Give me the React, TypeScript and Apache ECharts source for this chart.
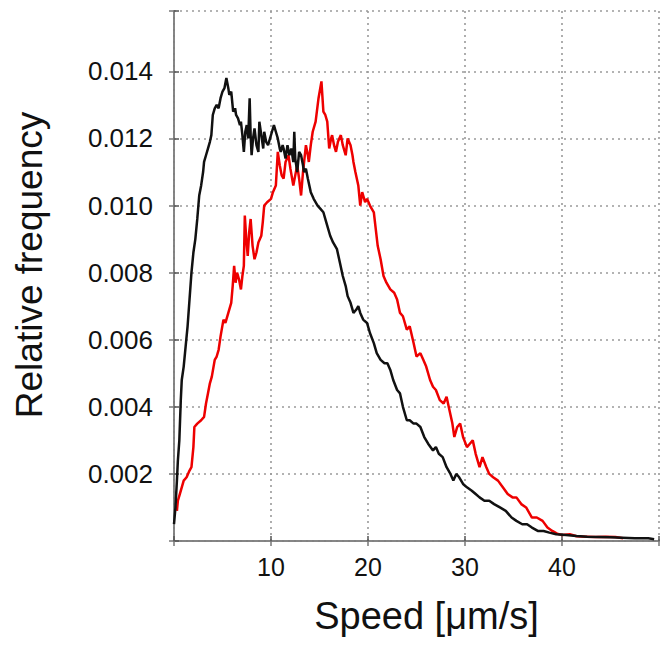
import React, { useEffect, useRef } from "react";
import * as echarts from "echarts";

const xTicks = [10, 20, 30, 40];
const yTicks = [0.002, 0.004, 0.006, 0.008, 0.01, 0.012, 0.014];

// Black curve: [speed, relative frequency]
const blackSpeed = [
  0.0, 0.15, 0.3, 0.4, 0.55, 0.7, 0.8, 1.0, 1.2, 1.4, 1.6, 1.8, 2.0, 2.2, 2.4, 2.6, 2.8, 3.0, 3.1, 3.3,
  3.5, 3.7, 3.85, 4.0, 4.2, 4.4, 4.6, 4.8, 5.0, 5.2, 5.4, 5.6, 5.7, 5.9, 6.1, 6.3, 6.4, 6.6, 6.8, 6.9,
  7.05, 7.2, 7.35, 7.5, 7.65, 7.8, 7.9, 8.0, 8.15, 8.3, 8.5, 8.7, 8.8, 9.0, 9.2, 9.3, 9.5, 9.7, 9.9, 10.1,
  10.3, 10.5, 10.7, 10.9, 11.0, 11.2, 11.3, 11.5, 11.7, 11.9, 12.1, 12.3, 12.4, 12.5, 12.7, 12.9, 13.1, 13.3, 13.4, 13.6,
  13.8, 14.1, 14.4, 14.8, 15.1, 15.4, 15.7, 16.1, 16.4, 16.8, 17.1, 17.4, 17.7, 17.9, 18.2, 18.5, 18.8, 19.0, 19.2, 19.5,
  19.9, 20.2, 20.6, 20.9, 21.3, 21.7, 22.0, 22.3, 22.6, 23.0, 23.3, 23.6, 24.0, 24.3, 24.7, 25.0, 25.4, 25.8, 26.2, 26.7,
  27.0, 27.3, 27.7, 28.1, 28.5, 28.8, 29.1, 29.4, 29.8, 30.2, 30.7, 31.1, 31.5, 32.0, 32.5, 33.0, 33.6, 34.2, 34.8, 35.3,
  35.9, 36.4, 36.9, 37.5, 38.1, 38.7, 39.4, 40.4, 41.5, 42.6, 43.8, 45.0, 46.2, 47.5, 48.9, 49.5,
];
const blackFreq = [
  0.0005, 0.001, 0.0018, 0.0024, 0.003, 0.0042, 0.0048, 0.0052, 0.0058, 0.0064, 0.0072, 0.008, 0.0086, 0.009, 0.0096, 0.0103, 0.0106, 0.011, 0.0113, 0.0115,
  0.0117, 0.0119, 0.0121, 0.0127, 0.0129, 0.013, 0.0129, 0.0132, 0.0134, 0.0135, 0.0138, 0.0135, 0.0133, 0.0134, 0.0128, 0.0129, 0.0127, 0.0126, 0.0124, 0.0125,
  0.0121, 0.0116, 0.0122, 0.0124, 0.012, 0.0132, 0.0121, 0.0115, 0.012, 0.0123, 0.0118, 0.0116, 0.0125, 0.0121, 0.0117, 0.0122, 0.0119, 0.0118, 0.012, 0.0122,
  0.0124, 0.0122, 0.012, 0.0117, 0.0116, 0.0118, 0.0117, 0.0114, 0.0118, 0.0115, 0.0117, 0.0113, 0.0122, 0.0114, 0.011, 0.0116, 0.0115, 0.0112, 0.011, 0.0111,
  0.0108, 0.0104, 0.0102, 0.01, 0.0099, 0.0098, 0.0095, 0.0091, 0.0089, 0.0087, 0.0083, 0.0079, 0.0076, 0.0073, 0.0071, 0.0068, 0.0069, 0.007, 0.0068, 0.0066,
  0.0065, 0.0062, 0.0059, 0.0056, 0.0054, 0.0053, 0.0053, 0.0051, 0.0048, 0.0045, 0.0044, 0.004, 0.0036, 0.0036, 0.0035, 0.0035, 0.0034, 0.0031, 0.0029, 0.0027,
  0.0028, 0.0026, 0.0025, 0.0022, 0.002, 0.0018, 0.002, 0.0019, 0.0017, 0.0016, 0.0015, 0.0014, 0.0013, 0.0012, 0.0012, 0.0011, 0.001, 0.0009, 0.0007, 0.0006,
  0.0005, 0.0005, 0.0004, 0.0003, 0.0003, 0.00025, 0.0002, 0.00018, 0.00015, 0.00013, 0.00012, 0.00011, 0.0001, 0.00008, 0.00008, 0.00005,
];

// Red curve: [speed, relative frequency]
const redSpeed = [
  0.3, 0.4, 0.6, 0.8, 1.0, 1.3, 1.6, 1.8, 2.0, 2.1, 2.4, 2.8, 3.1, 3.3, 3.5, 3.7, 3.9, 4.2, 4.4, 4.6,
  4.8, 5.1, 5.3, 5.6, 5.9, 6.05, 6.2, 6.35, 6.5, 6.7, 6.9, 7.05, 7.2, 7.3, 7.45, 7.6, 7.75, 7.9, 8.1, 8.3,
  8.5, 8.7, 9.0, 9.15, 9.3, 9.6, 10.0, 10.2, 10.5, 10.7, 10.9, 11.1, 11.3, 11.5, 11.8, 12.0, 12.3, 12.5, 12.7, 12.9,
  13.1, 13.3, 13.6, 13.8, 13.9, 14.1, 14.3, 14.6, 14.9, 15.2, 15.4, 15.6, 15.8, 16.0, 16.2, 16.3, 16.5, 16.7, 16.9, 17.2,
  17.4, 17.7, 17.9, 18.2, 18.4, 18.5, 18.7, 19.0, 19.2, 19.4, 19.7, 19.9, 20.2, 20.6, 20.8, 21.0, 21.3, 21.6, 21.9, 22.3,
  22.7, 23.0, 23.3, 23.6, 24.0, 24.3, 24.7, 25.0, 25.4, 25.7, 26.0, 26.4, 26.7, 27.0, 27.4, 27.8, 28.1, 28.4, 28.7, 28.9,
  29.2, 29.5, 29.8, 30.2, 30.5, 30.8, 31.1, 31.5, 31.8, 32.2, 32.5, 32.9, 33.4, 33.9, 34.4, 34.9, 35.3, 35.8, 36.3, 36.9,
  37.4, 38.0, 38.5, 39.0, 39.5, 40.0, 40.8, 41.5, 42.5, 43.5, 44.5, 45.5, 46.3,
];
const redFreq = [
  0.0009, 0.0012, 0.0014, 0.0016, 0.0018, 0.0019, 0.0021, 0.0022, 0.0028, 0.0034, 0.0035, 0.0036, 0.0037, 0.0041, 0.0044, 0.0047, 0.0049, 0.0054, 0.0055, 0.0057,
  0.0061, 0.0066, 0.0065, 0.0068, 0.0071, 0.0076, 0.0082, 0.0077, 0.008, 0.0078, 0.0075, 0.0079, 0.0082, 0.0097, 0.009, 0.0085, 0.0092, 0.0096, 0.0088, 0.0084,
  0.0086, 0.0089, 0.0091, 0.0095, 0.01, 0.0101, 0.0102, 0.0104, 0.0106, 0.0116, 0.0112, 0.0109, 0.0108, 0.0113, 0.0115, 0.0111, 0.0106, 0.0109, 0.0112, 0.0108,
  0.0103, 0.011, 0.0118, 0.0115, 0.0113, 0.0118, 0.0122, 0.0125, 0.0132, 0.0137, 0.0128, 0.0127, 0.0125, 0.0117, 0.012, 0.0121, 0.0118, 0.0116, 0.0119, 0.0121,
  0.0118, 0.0115, 0.012, 0.0118, 0.0115, 0.0113, 0.011, 0.0106, 0.01, 0.0104, 0.0101, 0.0102, 0.01, 0.0098, 0.0093, 0.0088, 0.0084, 0.0079, 0.0077, 0.0075,
  0.0074, 0.0072, 0.0068, 0.0067, 0.0063, 0.0064, 0.0059, 0.0055, 0.0056, 0.0054, 0.0052, 0.0048, 0.0046, 0.0045, 0.0042, 0.0041, 0.0043, 0.0039, 0.0035, 0.0031,
  0.0034, 0.0035, 0.0031, 0.0028, 0.0029, 0.003, 0.0026, 0.0022, 0.0025, 0.0022, 0.002, 0.0019, 0.0018, 0.0016, 0.0014, 0.0013, 0.0013, 0.0011, 0.001, 0.0007,
  0.0007, 0.0006, 0.0004, 0.0003, 0.00022, 0.00018, 0.0002, 0.00014, 0.00013, 0.00012, 0.00013, 0.00012, 0.00008,
];

const FONT = "'Liberation Sans', Arial, sans-serif";

export default function App() {
  const ref = useRef<HTMLDivElement>(null);
  useEffect(() => {
    if (!ref.current) return;
    const chart = echarts.init(ref.current, null, { renderer: "svg" });
    const pair = (xs: number[], ys: number[]) => xs.map((x, i) => [x, ys[i]]);
    const gridLine = { show: true, lineStyle: { color: "#9a9a9a", width: 1.6, type: [2, 4] as any } };
    chart.setOption({
      animation: false,
      backgroundColor: "#ffffff",
      grid: { left: 174, right: 10, top: 11, bottom: 109, containLabel: false },
      xAxis: [
        {
          type: "value",
          min: 0,
          max: 50,
          interval: 10,
          name: "Speed [\u03bcm/s]",
          nameLocation: "middle",
          nameGap: 56,
          nameTextStyle: { fontSize: 38, color: "#111", fontFamily: FONT, padding: [0, 0, 0, 20] },
          axisLine: { show: true, lineStyle: { color: "#555", width: 1.5 } },
          axisTick: { show: true, inside: true, length: 5, lineStyle: { color: "#555", width: 1.5 } },
          axisLabel: {
            fontSize: 25,
            color: "#111",
            fontFamily: FONT,
            margin: 13,
            formatter: (v: number) => (xTicks.includes(v) ? String(v) : ""),
          },
          splitLine: gridLine,
        },
        {
          type: "value",
          position: "top",
          min: 0,
          max: 50,
          interval: 10,
          axisLine: { show: true, lineStyle: { color: "#888", width: 1.5 } },
          axisTick: { show: true, inside: true, length: 5, lineStyle: { color: "#777", width: 1.5 } },
          axisLabel: { show: false },
          splitLine: { show: false },
        },
      ],
      yAxis: [
        {
          type: "value",
          min: 0,
          max: 0.0158,
          interval: 0.002,
          name: "Relative frequency",
          nameLocation: "middle",
          nameGap: 126,
          nameTextStyle: { fontSize: 37, color: "#111", fontFamily: FONT, padding: [0, 0, 0, 22] },
          axisLine: { show: true, lineStyle: { color: "#555", width: 1.5 } },
          axisTick: { show: true, inside: true, length: 5, lineStyle: { color: "#555", width: 1.5 } },
          axisLabel: {
            fontSize: 26,
            color: "#111",
            fontFamily: FONT,
            margin: 21,
            formatter: (v: number) => {
              const r = Math.round(v * 1000) / 1000;
              return yTicks.some((t) => Math.abs(t - r) < 1e-9) ? r.toFixed(3) : "";
            },
          },
          splitLine: gridLine,
        },
        {
          type: "value",
          position: "right",
          min: 0,
          max: 0.0158,
          interval: 0.002,
          axisLine: { show: true, lineStyle: { color: "#888", width: 1.5 } },
          axisTick: { show: true, inside: true, length: 5, lineStyle: { color: "#777", width: 1.5 } },
          axisLabel: { show: false },
          splitLine: { show: false },
        },
      ],
      series: [
        {
          name: "red",
          type: "line",
          data: pair(redSpeed, redFreq),
          showSymbol: false,
          symbol: "none",
          lineStyle: { color: "#ee0000", width: 2.5 },
          z: 2,
        },
        {
          name: "black",
          type: "line",
          data: pair(blackSpeed, blackFreq),
          showSymbol: false,
          symbol: "none",
          lineStyle: { color: "#111111", width: 2.5 },
          z: 3,
        },
      ],
    });
    return () => chart.dispose();
  }, []);
  return <div ref={ref} style={{ width: 669, height: 650, position: "absolute", left: 0, top: 0 }} />;
}
